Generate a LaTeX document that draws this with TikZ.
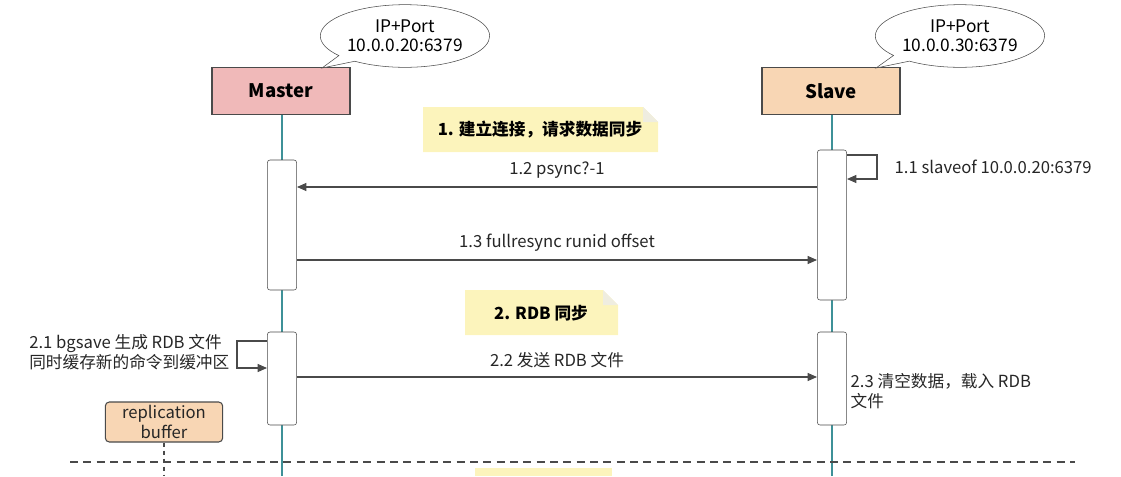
\documentclass[tikz,border=0pt]{standalone}
\usepackage{fontspec}
\setmainfont{Noto Sans CJK SC}
\usetikzlibrary{shapes.callouts,arrows.meta}
\definecolor{masterfill}{HTML}{F0B9B9}
\definecolor{slavefill}{HTML}{F8D6B4}
\definecolor{notefill}{HTML}{FCF4BC}
\definecolor{lifeline}{HTML}{3E9198}
\definecolor{linegray}{HTML}{4A4A4A}
\tikzset{
	role/.style = {draw=linegray, thick, minimum width=103.5pt, minimum height=35pt, font=\bfseries\fontsize{14}{16}\selectfont},
	act/.style = {draw=linegray, fill=white, rounded corners=2pt, minimum width=22pt},
	msg/.style = {draw=linegray, thick, -{Triangle[length=7pt,width=6pt]}},
	bubble/.style = {ellipse callout, draw=linegray, fill=white, minimum width=127pt, minimum height=47pt, align=center, inner sep=0pt, font=\fontsize{13}{14.5}\selectfont},
	label/.style = {font=\fontsize{12.5}{15.5}\selectfont, text=black!85},
	notetext/.style = {font=\bfseries\fontsize{12.5}{15}\selectfont},
}
\begin{document}
\begin{tikzpicture}[x=0.75pt,y=-0.75pt]
	\useasboundingbox (0,0) rectangle (1121,476);
	
	% lifelines
	\draw[lifeline, very thick] (282,115) -- (282,476);
	\draw[lifeline, very thick] (832,115) -- (832,476);
	
	% roles
	\node[role, fill=masterfill] (master) at (281,91) {Master};
	\node[role, fill=slavefill] (slave) at (831,91) {Slave};
	\node[bubble, callout absolute pointer={(322,68)}] (masterip) at (405,36) {IP+Port\\10.0.0.20:6379};
	\node[bubble, callout absolute pointer={(876,68)}] (slaveip) at (960,36) {IP+Port\\10.0.0.30:6379};
	
	% notes
	\fill[notefill] (423,107) -- (643,107) -- (658,122) -- (658,152) -- (423,152) -- cycle;
	\fill[notefill!80!black!30] (643,107) -- (643,122) -- (658,122) -- cycle;
	\node[notetext] (note1) at (540,130) {1. 建立连接，请求数据同步};
	\fill[notefill] (465,290) -- (603,290) -- (618,305) -- (618,335) -- (465,335) -- cycle;
	\fill[notefill!80!black!30] (603,290) -- (603,305) -- (618,305) -- cycle;
	\node[notetext] (note2) at (541,313) {2. RDB 同步};
	\fill[notefill] (475,468) rectangle (612,476);
	
	% activations
	\node[act, minimum height=97.5pt] (mact1) at (282,225) {};
	\node[act, minimum height=69.75pt] (mact2) at (282,378.5) {};
	\node[act, minimum height=112.5pt] (sact1) at (832,225) {};
	\node[act, minimum height=69.75pt] (sact2) at (832,378.5) {};
	
	% messages
	\coordinate (s12) at (817,187);  \coordinate (m12) at (297,187);
	\coordinate (m13) at (297,260);  \coordinate (s13) at (817,260);
	\coordinate (m22) at (297,377);  \coordinate (s22) at (817,377);
	\draw[msg] (s12) -- node[label, above=3pt] (l12) {1.2 psync?-1} (m12);
	\draw[msg] (m13) -- node[label, above=3pt] (l13) {1.3 fullresync runid offset} (s13);
	\draw[msg] (m22) -- node[label, above=3pt] (l22) {2.2 发送 RDB 文件} (s22);
	
	% self calls
	\coordinate (s11a) at (847,155); \coordinate (s11b) at (847,179);
	\draw[msg] (s11a) -- ++(30,0) |- (s11b);
	\node[label, anchor=west] (l11) at (890,167) {1.1 slaveof 10.0.0.20:6379};
	\coordinate (m21a) at (267,341); \coordinate (m21b) at (267,368);
	\draw[msg] (m21a) -- ++(-30,0) |- (m21b);
	\node[label, anchor=east, align=left] (l21) at (234,352) {2.1 bgsave 生成 RDB 文件\\同时缓存新的命令到缓冲区};
	\node[label, anchor=west, align=left] (l23) at (846,391) {2.3 清空数据，载入 RDB\\文件};
	
	% buffer
	\node[draw=linegray, thick, fill=slavefill, rounded corners=3pt, minimum width=88pt, minimum height=30pt, align=center, inner sep=1pt, label] (buffer) at (164,422) {replication\\buffer};
	\draw[linegray, thick, dashed] (buffer.south) -- (164,476);
	\draw[linegray, thick, dash pattern=on 6pt off 4pt] (70,462) -- (1075,462);
\end{tikzpicture}
\end{document}
